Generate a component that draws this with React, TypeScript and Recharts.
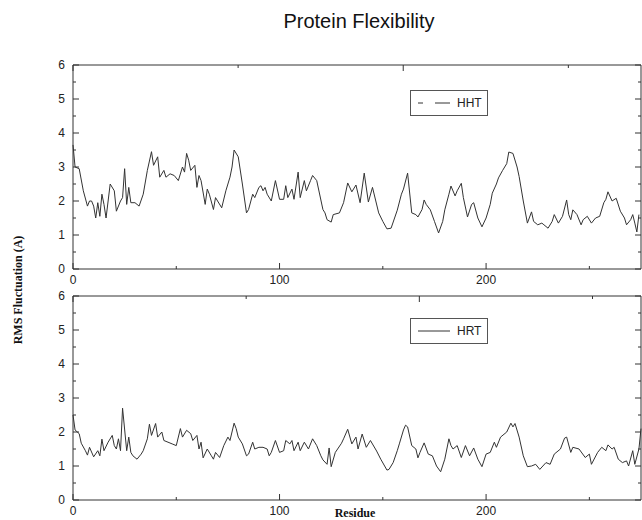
import React from 'react';
import { LineChart, Line, XAxis, YAxis, Legend } from 'recharts';

// residue index / RMS fluctuation
const hhtResidue = [
  0, 1, 3, 5, 7, 8, 9, 10, 11, 12,
  13, 14, 15, 16, 18, 20, 21, 23, 24, 25,
  26, 27, 28, 30, 32, 34, 36, 38, 39, 41,
  42, 44, 45, 47, 49, 51, 53, 54, 55, 56,
  57, 59, 60, 61, 62, 64, 65, 66, 68, 69,
  70, 72, 74, 76, 77, 78, 80, 82, 84, 85,
  87, 88, 90, 91, 92, 93, 94, 96, 98, 100,
  102, 103, 104, 106, 107, 109, 110, 112, 113, 115,
  116, 118, 121, 122, 123, 125, 126, 129, 131, 133,
  135, 137, 139, 141, 143, 145, 148, 150, 152, 154,
  157, 159, 160, 162, 164, 166, 167, 169, 170, 171,
  173, 175, 177, 179, 180, 182, 183, 185, 186, 188,
  189, 191, 193, 194, 196, 198, 200, 202, 203, 205,
  206, 208, 210, 211, 213, 215, 216, 218, 220, 222,
  223, 225, 227, 228, 230, 232, 233, 235, 237, 239,
  240, 241, 242, 244, 246, 247, 249, 251, 253, 255,
  257, 258, 259, 261, 263, 265, 267, 268, 270, 271,
  272, 273, 274,
];
const hhtRms = [
  3.65, 3.0, 2.95, 2.3, 1.85, 2.0, 2.0, 1.85, 1.5, 1.95,
  1.55, 2.2, 1.9, 1.5, 2.5, 2.3, 1.7, 2.0, 2.1, 2.95,
  1.9, 2.4, 1.95, 1.95, 1.85, 2.2, 2.9, 3.45, 3.05, 3.3,
  2.7, 2.9, 2.7, 2.8, 2.75, 2.6, 3.0, 2.85, 3.4, 3.2,
  2.9, 3.05, 2.4, 2.75, 2.6, 1.9, 2.35, 2.2, 1.75, 2.1,
  2.0, 1.8, 2.3, 2.7, 3.0, 3.5, 3.3, 2.5, 1.65, 1.75,
  2.2, 2.1, 2.4, 2.45, 2.3, 2.4, 2.2, 2.0, 2.6, 2.05,
  2.05, 2.45, 2.1, 2.35, 2.05, 2.85, 2.1, 2.6, 2.3, 2.6,
  2.75, 2.6, 1.75, 1.65, 1.45, 1.38, 1.6, 1.65, 1.95, 2.53,
  2.27, 2.47, 1.95, 2.82, 1.97, 2.4, 1.65, 1.4, 1.18, 1.2,
  1.73, 2.2, 2.35, 2.82, 1.65, 1.6, 1.53, 1.75, 2.03, 1.9,
  1.74, 1.4, 1.06, 1.4, 1.74, 2.2, 2.44, 2.15, 2.3, 2.52,
  2.1, 1.53, 1.9, 1.95, 1.5, 1.24, 1.5, 1.9, 2.23, 2.5,
  2.68, 2.9, 3.1, 3.44, 3.4, 3.0, 2.72, 2.0, 1.35, 1.68,
  1.4, 1.3, 1.35, 1.3, 1.2, 1.4, 1.6, 1.35, 1.55, 2.03,
  1.6, 1.45, 1.74, 1.6, 1.3, 1.45, 1.55, 1.35, 1.5, 1.55,
  1.95, 2.05, 2.27, 2.0, 2.08, 1.7, 1.5, 1.3, 1.45, 1.6,
  1.35, 1.09, 1.6,
];

const hrtResidue = [
  0, 1, 3, 4, 6, 7, 8, 10, 12, 13,
  14, 15, 17, 19, 20, 21, 22, 23, 24, 26,
  27, 28, 29, 31, 33, 34, 36, 37, 38, 40,
  41, 43, 44, 46, 48, 50, 52, 53, 55, 57,
  58, 60, 61, 62, 63, 65, 67, 68, 69, 71,
  73, 75, 76, 78, 79, 80, 82, 84, 85, 87,
  88, 90, 92, 94, 95, 96, 98, 100, 102, 103,
  105, 106, 107, 109, 110, 112, 114, 116, 118, 120,
  121, 123, 124, 125, 127, 130, 131, 133, 135, 137,
  138, 140, 142, 144, 147, 149, 152, 153, 155, 157,
  158, 160, 161, 162, 164, 166, 167, 168, 170, 172,
  174, 176, 178, 180, 182, 183, 184, 186, 188, 190,
  192, 194, 196, 198, 200, 202, 204, 205, 207, 210,
  212, 213, 214, 216, 218, 220, 222, 224, 226, 229,
  231, 233, 236, 238, 239, 241, 242, 245, 248, 250,
  251, 254, 256, 258, 259, 261, 262, 264, 266, 268,
  269, 271, 272, 274, 275,
];
const hrtRms = [
  2.5, 2.06, 1.95, 1.67, 1.45, 1.32, 1.55, 1.27, 1.45, 1.3,
  1.79, 1.45, 1.7, 1.9, 1.6, 1.5, 1.8, 1.45, 2.7, 1.45,
  1.85, 1.4, 1.3, 1.2, 1.35, 1.45, 1.8, 2.23, 1.9, 2.25,
  1.85, 2.0, 1.75, 1.7, 1.65, 1.6, 2.1, 1.85, 2.05, 1.95,
  1.75, 1.9, 1.5, 1.7, 1.24, 1.5, 1.3, 1.2, 1.4, 1.25,
  1.6, 1.85, 1.75, 2.26, 2.1, 1.85, 1.65, 1.3, 1.35, 1.7,
  1.5, 1.55, 1.55, 1.5, 1.3, 1.4, 1.75, 1.4, 1.45, 1.75,
  1.65, 1.75, 1.45, 1.7, 1.45, 1.7, 1.5, 1.8, 1.6, 1.3,
  1.18, 1.05, 1.53, 0.98, 1.4, 1.67, 1.8, 2.08, 1.65, 1.85,
  1.5, 1.94, 1.55, 1.75, 1.44, 1.2, 0.88, 0.9, 1.1, 1.45,
  1.65, 2.06, 2.2, 2.15, 1.6, 1.5, 1.24, 1.4, 1.68, 1.35,
  1.3, 1.0, 0.83, 1.2, 1.8, 1.6, 1.5, 1.6, 1.25, 1.6,
  1.3, 1.53, 1.2, 0.98, 1.35, 1.4, 1.7, 1.55, 1.85, 2.0,
  2.26, 2.15, 2.25, 1.85, 1.3, 0.98, 1.0, 1.05, 0.9, 1.1,
  1.05, 1.35, 1.5, 1.82, 1.85, 1.4, 1.55, 1.5, 1.25, 1.35,
  1.05, 1.4, 1.55, 1.45, 1.62, 1.5, 1.55, 1.2, 1.1, 1.15,
  1.0, 1.45, 1.05, 1.5, 2.1,
];

const xTicks = [0, 50, 100, 150, 200, 250];
const yTicks = [0, 0.5, 1, 1.5, 2, 2.5, 3, 3.5, 4, 4.5, 5, 5.5, 6];

const INK = '#333';
const SANS = '"Liberation Sans", Arial, sans-serif';
const SERIF = '"Liberation Serif", "Times New Roman", serif';

const W = 642;
const H = 520;

function BottomTick(p: any) {
  const v = p.payload.value;
  const major = v % 100 === 0;
  return (
    <g>
      <line x1={p.x} y1={p.y} x2={p.x} y2={p.y - (major ? 6 : 3)} stroke={INK} />
      {major && (
        <text x={p.x} y={p.y + 15} textAnchor="middle" fontSize={12} fontFamily={SANS} fill="#222">
          {v}
        </text>
      )}
    </g>
  );
}

function TopTick(p: any) {
  const major = p.payload.value % 100 === 0;
  return <line x1={p.x} y1={p.y} x2={p.x} y2={p.y + (major ? 6 : 3)} stroke={INK} />;
}

function LeftTick(p: any) {
  const v = p.payload.value;
  const major = Number.isInteger(v);
  return (
    <g>
      <line x1={p.x} y1={p.y} x2={p.x + (major ? 6 : 3)} y2={p.y} stroke={INK} />
      {major && (
        <text x={p.x - 8} y={p.y + 4} textAnchor="end" fontSize={12} fontFamily={SANS} fill="#222">
          {v}
        </text>
      )}
    </g>
  );
}

function RightTick(p: any) {
  const major = Number.isInteger(p.payload.value);
  return <line x1={p.x} y1={p.y} x2={p.x - (major ? 6 : 3)} y2={p.y} stroke={INK} />;
}

function LegendBox({ name, dash }: { name: string; dash?: string }) {
  return (
    <div
      style={{
        width: 76,
        height: 24,
        border: '1px solid #555',
        background: '#fff',
        display: 'flex',
        alignItems: 'center',
        fontFamily: SANS,
        fontSize: 12,
        color: '#222',
      }}
    >
      <svg width={40} height={10} style={{ marginLeft: 6 }}>
        <line x1={1} y1={5} x2={33} y2={5} stroke={INK} strokeDasharray={dash} />
      </svg>
      <span>{name}</span>
    </div>
  );
}

function Panel({
  residue,
  rms,
  name,
  plotTop,
  plotBottom,
  dash,
  legendTop,
}: {
  residue: number[];
  rms: number[];
  name: string;
  plotTop: number;
  plotBottom: number;
  dash?: string;
  legendTop: number;
}) {
  const data = residue.map((r, i) => ({ residue: r, rms: rms[i] }));
  return (
    <div style={{ position: 'absolute', left: 0, top: 0 }}>
      <LineChart
        width={W}
        height={H}
        data={data}
        margin={{ top: plotTop - 5, right: 0, left: 43, bottom: H - plotBottom - 20 }}
      >
        <XAxis
          dataKey="residue"
          type="number"
          domain={[0, 275]}
          ticks={xTicks}
          interval={0}
          height={20}
          tickSize={0}
          tickMargin={0}
          tick={BottomTick}
          axisLine={{ stroke: INK }}
        />
        <XAxis
          xAxisId="top"
          orientation="top"
          type="number"
          domain={[0, 275]}
          allowDataOverflow
          ticks={xTicks}
          interval={0}
          height={5}
          tickSize={0}
          tickMargin={0}
          tick={TopTick}
          axisLine={{ stroke: INK }}
        />
        <YAxis
          type="number"
          domain={[0, 6]}
          ticks={yTicks}
          interval={0}
          width={30}
          tickSize={0}
          tickMargin={0}
          tick={LeftTick}
          axisLine={{ stroke: INK }}
        />
        <YAxis
          yAxisId="right"
          orientation="right"
          type="number"
          domain={[0, 6]}
          allowDataOverflow
          ticks={yTicks}
          interval={0}
          width={1}
          tickSize={0}
          tickMargin={0}
          tick={RightTick}
          axisLine={{ stroke: INK }}
        />
        <Legend
          layout="horizontal"
          verticalAlign="middle"
          align="center"
          wrapperStyle={{ position: 'absolute', left: 410, top: legendTop, width: 78 }}
          content={() => <LegendBox name={name} dash={dash} />}
        />
        <Line
          type="linear"
          dataKey="rms"
          name={name}
          stroke={INK}
          strokeWidth={1}
          dot={false}
          isAnimationActive={false}
        />
      </LineChart>
    </div>
  );
}

export default function App() {
  return (
    <div
      style={{
        position: 'absolute',
        left: 0,
        top: 0,
        width: W,
        height: H,
        background: '#fff',
        overflow: 'hidden',
      }}
    >
      <div
        style={{
          position: 'absolute',
          left: 209,
          top: 9,
          width: 300,
          textAlign: 'center',
          fontFamily: SANS,
          fontSize: 20,
          lineHeight: '24px',
          color: '#111',
        }}
      >
        Protein Flexibility
      </div>
      <Panel
        residue={hhtResidue}
        rms={hhtRms}
        name="HHT"
        plotTop={65}
        plotBottom={269}
        dash="5 12 15 0"
        legendTop={90}
      />
      <Panel residue={hrtResidue} rms={hrtRms} name="HRT" plotTop={296} plotBottom={500} legendTop={318} />
      <div
        style={{
          position: 'absolute',
          left: 18 - 100,
          top: 290 - 8,
          width: 200,
          height: 16,
          lineHeight: '16px',
          textAlign: 'center',
          transform: 'rotate(-90deg)',
          fontFamily: SERIF,
          fontWeight: 'bold',
          fontSize: 12,
          color: '#111',
        }}
      >
        RMS Fluctuation (A)
      </div>
      <div
        style={{
          position: 'absolute',
          left: 305,
          top: 505,
          width: 100,
          textAlign: 'center',
          lineHeight: '16px',
          fontFamily: SERIF,
          fontWeight: 'bold',
          fontSize: 12,
          color: '#111',
        }}
      >
        Residue
      </div>
    </div>
  );
}
